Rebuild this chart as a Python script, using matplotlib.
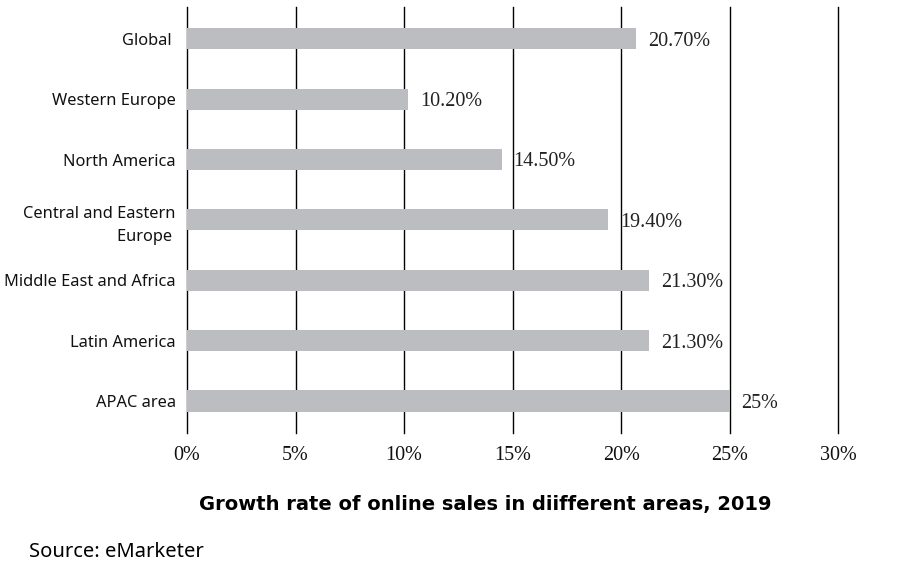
import matplotlib
matplotlib.use("Agg")
from matplotlib import pyplot as plt

regions = ["Global ", "Western Europe", "North America", "Central and Eastern\nEurope ",
           "Middle East and Africa", "Latin America", "APAC area"]
growth = [20.7, 10.2, 14.5, 19.4, 21.3, 21.3, 25.0]
value_labels = ["20.70%", "10.20%", "14.50%", "19.40%", "21.30%", "21.30%", "25%"]
x_ticks = [0, 5, 10, 15, 20, 25, 30]
x_tick_labels = ["0%", "5%", "10%", "15%", "20%", "25%", "30%"]

fig = plt.figure(figsize=(9.17, 5.72), dpi=100)
ax = fig.add_axes([0.204, 0.243, 0.710, 0.745])

pos = list(range(len(regions)))
ax.barh(pos, growth, height=0.35, color="#bcbdc0", zorder=2)

for p, v, lab in zip(pos, growth, value_labels):
    ax.text(v + 0.55, p + 0.04, lab, va="center", ha="left",
            fontsize=14.5, family="Liberation Serif", color="#222222")

for t in x_ticks:
    ax.axvline(t, color="black", lw=1.0, zorder=1, clip_on=False)

ax.set_xlim(0, 30)
ax.set_ylim(6.53, -0.53)
ax.set_xticks(x_ticks)
ax.set_xticklabels(x_tick_labels, family="Liberation Serif", fontsize=14.5)
ax.set_yticks(pos)
ax.set_yticklabels(regions, family="Noto Sans", fontsize=11.8, linespacing=1.6)
ax.tick_params(axis="both", length=0, colors="#111111")
ax.tick_params(axis="y", pad=8)
ax.tick_params(axis="x", pad=9)
for s in ax.spines.values():
    s.set_visible(False)

fig.text(0.529, 0.118, "Growth rate of online sales in diifferent areas, 2019",
         ha="center", va="center", fontsize=14, fontweight="bold", family="DejaVu Sans")
fig.text(0.032, 0.035, "Source: eMarketer", ha="left", va="center",
         fontsize=14.5, family="Noto Sans")

fig.savefig("out.png", dpi=100, facecolor="white")
